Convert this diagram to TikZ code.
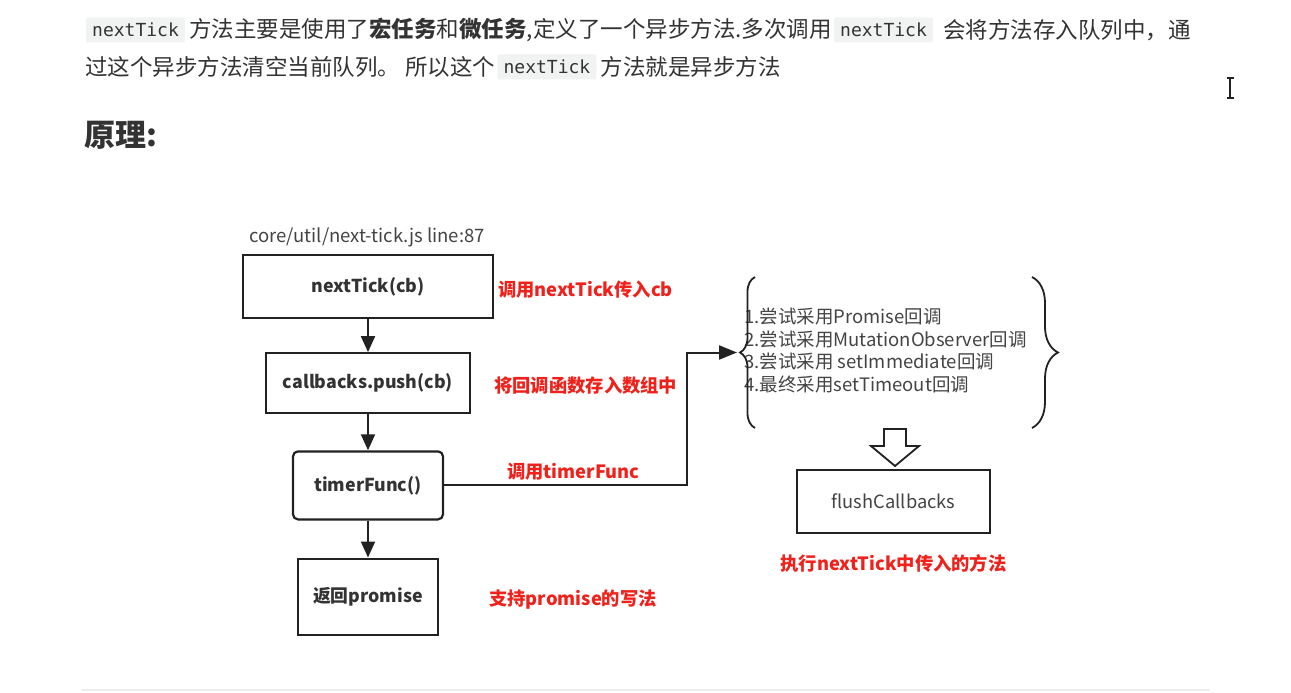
\documentclass[tikz,border=0pt]{standalone}
\usepackage{fontspec}
\setmainfont{Noto Sans CJK SC}
\newfontfamily\codefont{DejaVu Sans Mono}
\usetikzlibrary{positioning,arrows.meta,decorations.pathreplacing}
\definecolor{ink}{HTML}{222222}
\definecolor{txt}{HTML}{333333}
\definecolor{soft}{HTML}{444444}
\definecolor{accent}{HTML}{F0201A}
\definecolor{chip}{HTML}{F1F2F2}
\definecolor{rule}{HTML}{ECECEC}
\newcommand\bodysize{\fontsize{22.5}{26}\selectfont}
\newcommand\flowsize{\fontsize{17.8}{20}\selectfont}
\newcommand\notesize{\fontsize{18.3}{20}\selectfont}
\tikzset{
  body/.style={inner sep=0pt,text=txt,font=\bodysize},
  code/.style={fill=chip,rounded corners=2pt,inner xsep=6pt,inner ysep=0pt,minimum height=25pt,text=txt,font=\codefont\fontsize{18}{20}\selectfont},
  box/.style={draw=ink,line width=2.2pt,align=center,text=txt,font=\flowsize\bfseries},
  note/.style={inner sep=0pt,text=accent,font=\notesize\bfseries},
  flow/.style={-{Triangle[length=16pt,width=14pt]},draw=ink,line width=2pt},
  brace/.style={decorate,draw=ink,line width=1.8pt,decoration={brace,amplitude=#1}}}

\begin{document}
\begin{tikzpicture}[x=1pt,y=-1pt]
  \useasboundingbox[fill=white] (0,0) rectangle (1291,693);
  % intro text
  \node[code,anchor=west] (c1) at (86,30) {nextTick};
  \node[body,right=4pt of c1] (t1) {方法主要是使用了\textbf{宏任务}和\textbf{微任务},定义了一个异步方法.多次调用};
  \node[code,right=2pt of t1] (c2) {nextTick};
  \node[body,right=10pt of c2] (t2) {会将方法存入队列中，通};
  \node[body,anchor=west] (t3) at (85,67) {过这个异步方法清空当前队列。\ 所以这个};
  \node[code,right=2pt of t3] (c3) {nextTick};
  \node[body,right=4pt of c3] (t4) {方法就是异步方法};
  \node[anchor=west,inner sep=0pt,text=txt,font=\fontsize{31}{34}\selectfont\bfseries] (head) at (84,135) {原理:};
  % flow chart
  \node[anchor=west,inner sep=0pt,text=soft,font=\fontsize{18.5}{20}\selectfont] (file) at (249,237) {core/util/next-tick.js line:87};
  \node[box,minimum width=250pt,minimum height=63pt] (nt) at (368,286.5) {nextTick(cb)};
  \node[box,minimum width=204pt,minimum height=60pt,below=33pt of nt] (cbp) {callbacks.push(cb)};
  \node[box,rounded corners=5pt,minimum width=150pt,minimum height=68pt,below=36pt of cbp] (tf) {timerFunc()};
  \node[box,minimum width=140pt,minimum height=76pt,below=37pt of tf] (rp) {返回promise};
  \draw[flow] (nt) -- (cbp);
  \draw[flow] (cbp) -- (tf);
  \draw[flow] (tf) -- (rp);
  \node[note,anchor=west] (n1) at (498,290) {调用nextTick传入cb};
  \node[note,anchor=west] (n2) at (494,386) {将回调函数存入数组中};
  \node[note,anchor=west] (n3) at (507,472) {调用timerFunc};
  \node[note,anchor=west] (n4) at (489,600) {支持promise的写法};
  % fallbacks
  \node[anchor=north west,inner sep=0pt,align=left,text=soft,font=\fontsize{18.5}{22.5}\selectfont] (opts) at (744,308)
    {1.尝试采用Promise回调\\2.尝试采用MutationObserver回调\\3.尝试采用 setImmediate回调\\4.最终采用setTimeout回调};
  \draw[brace=15pt] (755,428) -- (755,277);
  \draw[brace=26pt] (1032,277) -- (1032,428);
  \coordinate (bend) at (687,352.5);
  \coordinate (ltip) at (737,352.5);
  \draw[flow,-{Triangle[length=18pt,width=14pt]}] (tf.east) -| (bend) -- (ltip);
  \draw[ink,line width=1.8pt,fill=white,line join=miter] (884,429) -- (906,429) -- (906,446) -- (919,446) -- (895,466) -- (871,446) -- (884,446) -- cycle;
  \node[box,font=\fontsize{18.3}{20}\selectfont,text=soft,line width=2pt,minimum width=193pt,minimum height=63pt] (fc) at (893.5,501.5) {flushCallbacks};
  \node[note,below=20pt of fc] (n5) {执行nextTick中传入的方法};
  % cursor and rule
  \draw[ink,line width=1.5pt] (1230,79) -- (1230,97) (1226.5,78) -- (1233.5,78) (1226.5,98) -- (1233.5,98);
  \draw[rule,line width=2.5pt] (82,690) -- (1210,690);
\end{tikzpicture}
\end{document}
